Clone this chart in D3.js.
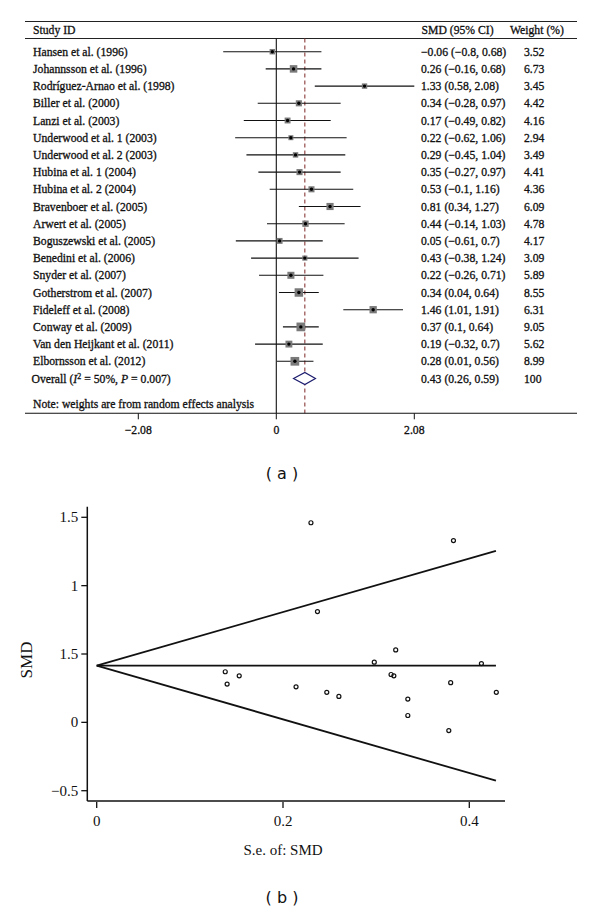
<!DOCTYPE html>
<html><head><meta charset="utf-8">
<script src="https://cdn.jsdelivr.net/npm/d3@7"></script>
<style>body{margin:0;background:#fff}svg{display:block}</style>
</head><body>
<script>
const studies = ["Hansen et al. (1996)","Johannsson et al. (1996)","Rodríguez-Arnao et al. (1998)","Biller et al. (2000)","Lanzi et al. (2003)","Underwood et al. 1 (2003)","Underwood et al. 2 (2003)","Hubina et al. 1 (2004)","Hubina et al. 2 (2004)","Bravenboer et al. (2005)","Arwert et al. (2005)","Boguszewski et al. (2005)","Benedini et al. (2006)","Snyder et al. (2007)","Gotherstrom et al. (2007)","Fideleff et al. (2008)","Conway et al. (2009)","Van den Heijkant et al. (2011)","Elbornsson et al. (2012)"];
const smd   = [-0.06,0.26,1.33,0.34,0.17,0.22,0.29,0.35,0.53,0.81,0.44,0.05,0.43,0.22,0.34,1.46,0.37,0.19,0.28];
const lower = [-0.8,-0.16,0.58,-0.28,-0.49,-0.62,-0.45,-0.27,-0.1,0.34,-0.14,-0.61,-0.38,-0.26,0.04,1.01,0.1,-0.32,0.01];
const upper = [0.68,0.68,2.08,0.97,0.82,1.06,1.04,0.97,1.16,1.27,1.03,0.7,1.24,0.71,0.64,1.91,0.64,0.7,0.56];
const weights = ["3.52","6.73","3.45","4.42","4.16","2.94","3.49","4.41","4.36","6.09","4.78","4.17","3.09","5.89","8.55","6.31","9.05","5.62","8.99"];
const overall = {est:0.43, lo:0.26, hi:0.59, weight:"100"};
const forestTicks = [-2.08, 0, 2.08];
const forestTickLabels = ["\u22122.08","0","2.08"];
// funnel plot
const seVals = [0.378,0.214,0.383,0.319,0.334,0.429,0.380,0.316,0.321,0.237,0.298,0.334,0.413,0.247,0.153,0.230,0.138,0.260,0.140];
const funnelSE = [0, 0.4286];
const funnelMid = [0.415, 0.415];
const funnelUp = [0.415, 1.254];
const funnelLow = [0.415, -0.427];
const yTicks = [-0.5, 0, 0.5, 1, 1.5];
const yTickLabels = ["\u22120.5","0","1.5","1","1.5"];
const xTicks = [0, 0.2, 0.4];
const xTickLabels = ["0","0.2","0.4"];

const W=600,H=912;
const svg=d3.select("body").append("svg").attr("width",W).attr("height",H);
const serif="'Liberation Serif','Times New Roman',serif";
const fs=11.7;
const minus=v=>String(v).replace("-","\u2212");

// ---------- Forest plot ----------
const fx=d3.scaleLinear().domain([-2.08,2.08]).range([138.3,414.3]);
const rowY=d3.scaleLinear().domain([0,1]).range([51.7,68.9]);
const L=25,R=577,topY=21.5,hdrY=38.5,axY=413.3;
const g=svg.append("g").attr("font-family",serif).attr("font-size",fs).attr("fill","#111");
const tg=g.append("g").attr("stroke","#111").attr("stroke-width",0.3);
g.append("line").attr("x1",L).attr("x2",R).attr("y1",topY).attr("y2",topY).attr("stroke","#222").attr("stroke-width",1);
g.append("line").attr("x1",L).attr("x2",R).attr("y1",hdrY).attr("y2",hdrY).attr("stroke","#222").attr("stroke-width",1);
tg.append("text").attr("x",33).attr("y",33.5).text("Study ID");
tg.append("text").attr("x",421.5).attr("y",33.5).text("SMD (95% CI)");
tg.append("text").attr("x",510).attr("y",33.5).text("Weight (%)");
// zero and pooled lines
g.append("line").attr("x1",fx(0)).attr("x2",fx(0)).attr("y1",hdrY).attr("y2",axY).attr("stroke","#111").attr("stroke-width",1.1);
g.append("line").attr("x1",fx(overall.est)).attr("x2",fx(overall.est)).attr("y1",hdrY).attr("y2",axY).attr("stroke","#8b3a3a").attr("stroke-width",1.1).attr("stroke-dasharray","4,3");
// rows
studies.forEach((s,i)=>{
  const y=rowY(i);
  tg.append("text").attr("x",33).attr("y",y+4).text(s);
  g.append("line").attr("x1",fx(lower[i])).attr("x2",fx(upper[i])).attr("y1",y).attr("y2",y).attr("stroke","#111").attr("stroke-width",1.1);
  const side=2.9*Math.sqrt(+weights[i]);
  g.append("rect").attr("x",fx(smd[i])-side/2).attr("y",y-side/2).attr("width",side).attr("height",side).attr("fill","#7a7a7a");
  g.append("circle").attr("cx",fx(smd[i])).attr("cy",y).attr("r",1.7).attr("fill","#000");
  tg.append("text").attr("x",421).attr("y",y+4).text(`${minus(smd[i])} (${minus(lower[i])}, ${minus(upper[i])})`);
  tg.append("text").attr("x",524).attr("y",y+4).text(weights[i]);
});
// overall
const oy=rowY(studies.length);
const ot=tg.append("text").attr("x",31.5).attr("y",oy+4);
ot.append("tspan").text("Overall (");
ot.append("tspan").attr("font-style","italic").text("I");
ot.append("tspan").attr("dy",-4).attr("font-size",8).text("2");
ot.append("tspan").attr("dy",4).text(" = 50%, ");
ot.append("tspan").attr("font-style","italic").text("P");
ot.append("tspan").text(" = 0.007)");
g.append("path").attr("d",`M${fx(overall.lo)},${oy} L${fx(overall.est)},${oy-6} L${fx(overall.hi)},${oy} L${fx(overall.est)},${oy+6} Z`).attr("fill","#fff").attr("stroke","#1c1c6e").attr("stroke-width",1.2);
tg.append("text").attr("x",421).attr("y",oy+4).text(`${overall.est} (${overall.lo}, ${overall.hi})`);
tg.append("text").attr("x",524).attr("y",oy+4).text(overall.weight);
tg.append("text").attr("x",33).attr("y",408).text("Note: weights are from random effects analysis");
// axis
g.append("line").attr("x1",L).attr("x2",R).attr("y1",axY).attr("y2",axY).attr("stroke","#111").attr("stroke-width",1.1);
forestTicks.forEach((t,i)=>{
  g.append("line").attr("x1",fx(t)).attr("x2",fx(t)).attr("y1",axY).attr("y2",axY+6).attr("stroke","#111");
  tg.append("text").attr("x",fx(t)).attr("y",434).attr("text-anchor","middle").text(forestTickLabels[i]);
});
svg.append("text").attr("x",282).attr("y",479).attr("text-anchor","middle").attr("font-family","'DejaVu Sans',sans-serif").attr("font-size",16).attr("fill","#111").text("( a )");

// ---------- Funnel plot ----------
const px=d3.scaleLinear().domain([0,0.4]).range([96.7,469.3]);
const py=d3.scaleLinear().domain([-0.5,1.5]).range([790.7,517.3]);
const fg=svg.append("g").attr("font-family",serif).attr("fill","#111");
const axL=87.3, axB=801, axT=506.7, axR=505;
fg.append("line").attr("x1",axL).attr("x2",axL).attr("y1",axT).attr("y2",axB).attr("stroke","#111").attr("stroke-width",1.5);
fg.append("line").attr("x1",axL).attr("x2",axR).attr("y1",axB).attr("y2",axB).attr("stroke","#111").attr("stroke-width",1.5);
yTicks.forEach((t,i)=>{
  fg.append("line").attr("x1",axL-6).attr("x2",axL).attr("y1",py(t)).attr("y2",py(t)).attr("stroke","#111").attr("stroke-width",1.3);
  fg.append("text").attr("x",axL-9).attr("y",py(t)+5).attr("text-anchor","end").attr("font-size",15).text(yTickLabels[i]);
});
xTicks.forEach((t,i)=>{
  fg.append("line").attr("x1",px(t)).attr("x2",px(t)).attr("y1",axB+1).attr("y2",axB+7).attr("stroke","#111").attr("stroke-width",1.3);
  fg.append("text").attr("x",px(t)).attr("y",826).attr("text-anchor","middle").attr("font-size",15).text(xTickLabels[i]);
});
fg.append("text").attr("x",283).attr("y",855).attr("text-anchor","middle").attr("font-size",15).text("S.e. of: SMD");
fg.append("text").attr("transform","translate(32,660) rotate(-90)").attr("text-anchor","middle").attr("font-size",17).text("SMD");
const ln=d3.line().x(d=>px(d[0])).y(d=>py(d[1]));
[funnelMid,funnelUp,funnelLow].forEach(arr=>{
  fg.append("path").attr("d",ln(funnelSE.map((s,i)=>[s,arr[i]]))).attr("fill","none").attr("stroke","#111").attr("stroke-width",1.8);
});
fg.selectAll("circle.pt").data(seVals.map((s,i)=>[s,smd[i]])).enter().append("circle")
  .attr("cx",d=>px(d[0])).attr("cy",d=>py(d[1])).attr("r",2).attr("fill","none").attr("stroke","#111").attr("stroke-width",1.2);
svg.append("text").attr("x",282).attr("y",903).attr("text-anchor","middle").attr("font-family","'DejaVu Sans',sans-serif").attr("font-size",16).attr("fill","#111").text("( b )");
</script>
</body></html>
